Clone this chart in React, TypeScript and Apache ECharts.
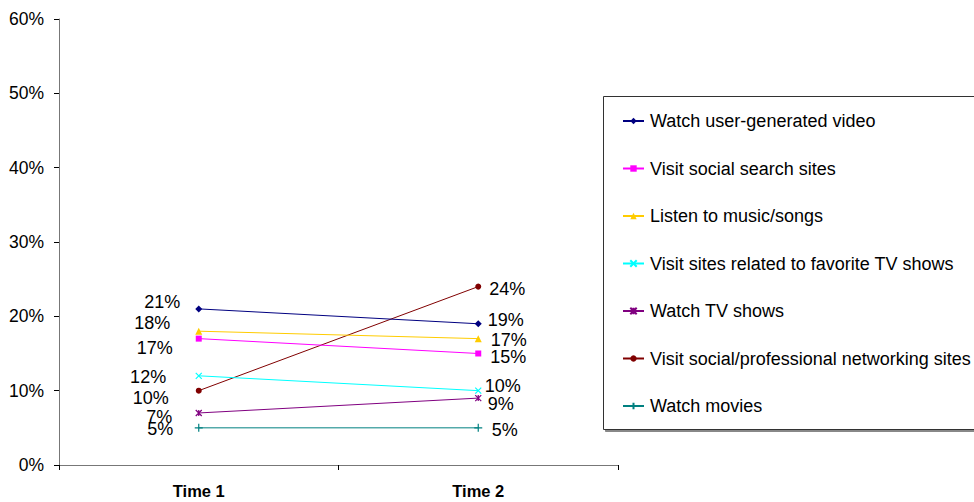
import React, { useEffect, useRef } from "react";
import * as echarts from "echarts";

// Survey waves on the x axis
const categories = ["Time 1", "Time 2"];

// Share of respondents per activity (fractions of 1)
const seriesNames = [
  "Watch user-generated video",
  "Visit social search sites",
  "Listen to music/songs",
  "Visit sites related to favorite TV shows",
  "Watch TV shows",
  "Visit social/professional networking sites",
  "Watch movies",
];
const userVideo = [0.21, 0.19];
const socialSearch = [0.17, 0.15];
const music = [0.18, 0.17];
const tvSites = [0.12, 0.1];
const tvShows = [0.07, 0.09];
const networking = [0.1, 0.24];
const movies = [0.05, 0.05];

// Y axis ticks
const yTicks = [0, 0.1, 0.2, 0.3, 0.4, 0.5, 0.6];

const seriesValues = [userVideo, socialSearch, music, tvSites, tvShows, networking, movies];

const colors = ["#000080", "#FF00FF", "#FFCC00", "#00FFFF", "#800080", "#800000", "#008080"];

const X_PATH = "path://M0,0L10,10M10,0L0,10";
const STAR_PATH = "path://M0,0L10,10M10,0L0,10M5,0L5,10";
const PLUS_PATH = "path://M5,0L5,10M0,5L10,5";

const symbols = ["diamond", "rect", "triangle", X_PATH, STAR_PATH, "circle", PLUS_PATH];
const symbolSizes = [7, 6, 7, 6, 6, 6, 8];
const stroked = [false, false, false, true, true, false, true];

// Label nudges (px) so the value tags don't collide: [time1, time2]
const labelOffsets: [number, number][][] = [
  [[-15, -7], [6, -4]],
  [[-23, 9], [9, 3]],
  [[-25, -8], [9, 1]],
  [[-29, 1], [3, -5]],
  [[-23, 4], [6, 6]],
  [[-27, 7], [8, 2]],
  [[-21, 1], [9, 2]],
];

const FONT = "Arial, 'Liberation Sans', sans-serif";

export default function App() {
  const ref = useRef<HTMLDivElement>(null);

  useEffect(() => {
    if (!ref.current) return;
    const chart = echarts.init(ref.current, null, { renderer: "svg" });

    const series = seriesNames.map((name, i) => ({
      name,
      type: "line",
      data: seriesValues[i].map((v, j) => ({
        value: v,
        label: {
          position: j === 0 ? "left" : "right",
          distance: 0,
          offset: labelOffsets[i][j],
        },
      })),
      symbol: symbols[i],
      symbolSize: symbolSizes[i],
      showAllSymbol: true,
      lineStyle: { color: colors[i], width: 1 },
      itemStyle: stroked[i]
        ? { color: colors[i], borderColor: colors[i], borderWidth: 1.2 }
        : { color: colors[i], borderWidth: 0 },
      label: {
        show: true,
        color: "#000",
        fontFamily: FONT,
        fontSize: 18,
        formatter: (p: any) => Math.round(p.value * 100) + "%",
      },
      emphasis: { disabled: true },
      z: 10 - i,
    }));

    chart.setOption({
      animation: false,
      backgroundColor: "#fff",
      grid: { left: 59, right: 356, top: 19, bottom: 37, containLabel: false },
      // Legend frame runs off the right edge of the canvas
      graphic: [
        {
          type: "rect",
          left: 603,
          top: 96,
          z: -1,
          shape: { width: 420, height: 333 },
          style: {
            fill: "#fff",
            stroke: "#333",
            lineWidth: 1,
            shadowColor: "#888",
            shadowOffsetX: 2,
            shadowOffsetY: 2,
            shadowBlur: 0,
          },
        },
      ],
      xAxis: {
        type: "category",
        data: categories,
        boundaryGap: true,
        axisLine: { show: true, lineStyle: { color: "#777", width: 1 } },
        axisTick: { show: true, length: 5, inside: false, lineStyle: { color: "#000" } },
        axisLabel: {
          color: "#000",
          fontFamily: FONT,
          fontSize: 16.5,
          fontWeight: "bold",
          margin: 17,
        },
        splitLine: { show: false },
      },
      yAxis: {
        type: "value",
        min: yTicks[0],
        max: yTicks[yTicks.length - 1],
        interval: 0.1,
        axisLine: { show: true, lineStyle: { color: "#777", width: 1 } },
        axisTick: { show: true, length: 5, lineStyle: { color: "#000" } },
        axisLabel: {
          color: "#000",
          fontFamily: FONT,
          fontSize: 17.5,
          margin: 15,
          formatter: (v: number) => Math.round(v * 100) + "%",
        },
        splitLine: { show: false },
      },
      legend: {
        orient: "vertical",
        left: 603,
        top: 96,
        itemWidth: 21,
        itemHeight: 8,
        itemGap: 29.5,
        padding: [16, 0, 16, 19],
        borderWidth: 0,
        selectedMode: false,
        textStyle: {
          color: "#000",
          fontFamily: FONT,
          fontSize: 18,
          lineHeight: 18,
          padding: [0, 0, 0, 1],
        },
        data: seriesNames,
      },
      series,
    });

    return () => chart.dispose();
  }, []);

  return (
    <div
      ref={ref}
      style={{ position: "fixed", left: 0, top: 0, width: 974, height: 502 }}
    />
  );
}
